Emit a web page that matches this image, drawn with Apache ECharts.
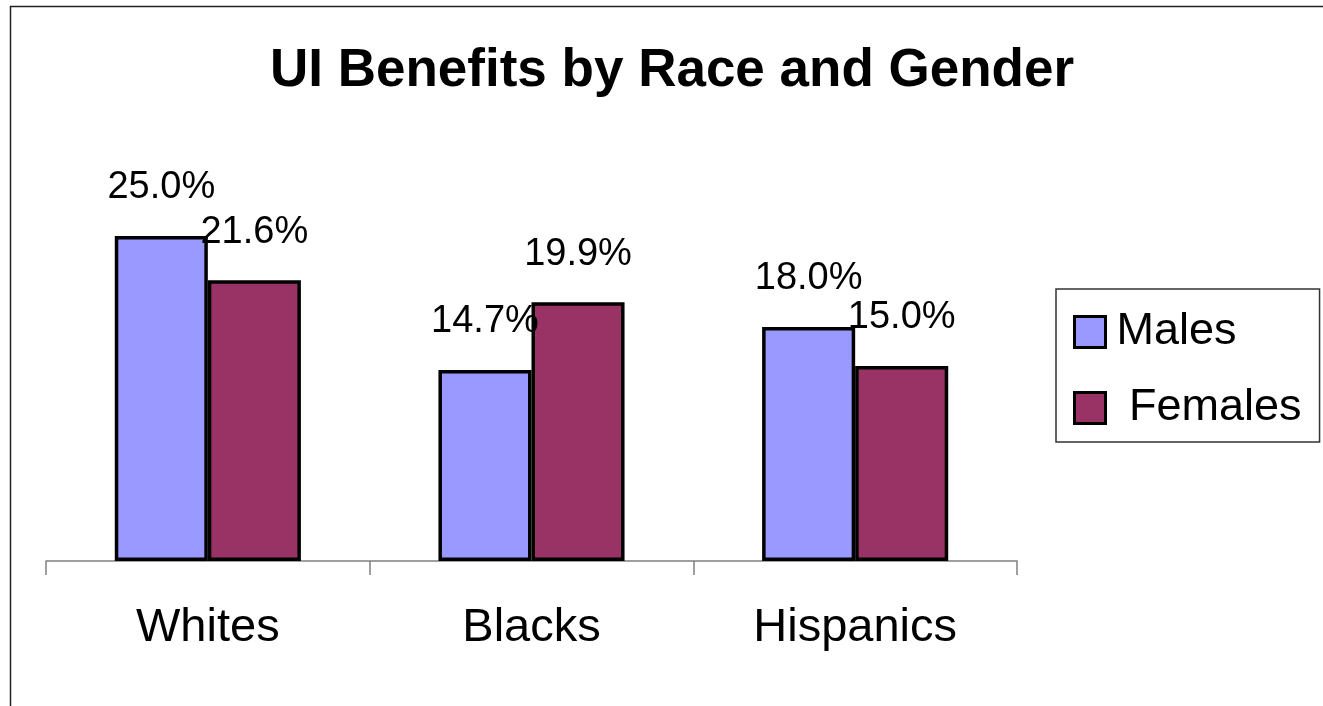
<!DOCTYPE html>
<html>
<head>
<meta charset="utf-8">
<script src="https://cdn.jsdelivr.net/npm/echarts@6/dist/echarts.min.js"></script>
<style>
html,body{margin:0;padding:0;background:#fff;}
#chart{width:1323px;height:706px;}
</style>
</head>
<body>
<div id="chart"></div>
<script>
const titleText = 'UI Benefits by Race and Gender';
const categories = ['Whites', 'Blacks', 'Hispanics'];
const seriesNames = ['Males', 'Females'];
const males = [25.0, 14.7, 18.0];
const females = [21.6, 19.9, 15.0];

const FONT = '"Liberation Sans", Arial, sans-serif';
const chart = echarts.init(document.getElementById('chart'), null, {renderer: 'canvas'});

const labelCfg = {
  show: true,
  position: 'top',
  distance: 29,
  color: '#000',
  fontSize: 38,
  fontFamily: FONT,
  formatter: p => p.value.toFixed(1) + '%'
};

chart.setOption({
  backgroundColor: '#fff',
  animation: false,
  graphic: [{
    type: 'rect',
    shape: {x: 10.5, y: 6.5, width: 1400, height: 800},
    style: {fill: 'none', stroke: '#222', lineWidth: 1.5},
    silent: true,
    z: -10
  }],
  title: {
    text: titleText,
    left: 270,
    top: 45,
    padding: 0,
    textStyle: {fontSize: 53, fontWeight: 'bold', color: '#000', fontFamily: FONT}
  },
  legend: {
    data: seriesNames,
    orient: 'vertical',
    left: 1056,
    top: 289,
    padding: [13, 18, 4, 17],
    itemGap: 16,
    itemWidth: 31,
    itemHeight: 31,
    icon: 'rect',
    borderColor: '#333',
    borderWidth: 1.5,
    itemStyle: {borderColor: '#000', borderWidth: 3},
    formatter: name => name === 'Females' ? ' ' + name : name,
    textStyle: {fontSize: 45, color: '#000', fontFamily: FONT, lineHeight: 46, padding: [0, 0, 14, 6]}
  },
  grid: {left: 46, right: 306, top: 171, bottom: 145, containLabel: false},
  xAxis: {
    type: 'category',
    data: categories,
    axisLine: {lineStyle: {color: '#808080', width: 1.5}},
    axisTick: {show: true, length: 14, lineStyle: {color: '#808080', width: 1.5}},
    axisLabel: {fontSize: 47, color: '#000', fontFamily: FONT, margin: 44}
  },
  yAxis: {
    type: 'value',
    min: 0,
    max: 30,
    show: false,
    splitLine: {show: false}
  },
  series: [
    {
      name: seriesNames[0],
      type: 'bar',
      data: males,
      barGap: '0%',
      barCategoryGap: '42.5%',
      itemStyle: {color: '#9999FF', borderColor: '#000', borderWidth: 3.5},
      label: labelCfg
    },
    {
      name: seriesNames[1],
      type: 'bar',
      data: females,
      barGap: '0%',
      barCategoryGap: '42.5%',
      itemStyle: {color: '#993366', borderColor: '#000', borderWidth: 3.5},
      label: labelCfg
    }
  ]
});
</script>
</body>
</html>
